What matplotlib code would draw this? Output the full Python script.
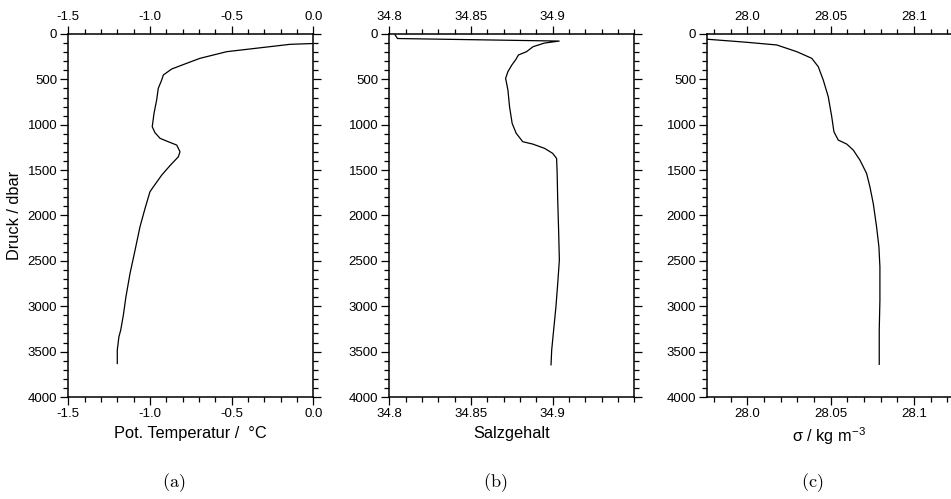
import matplotlib
matplotlib.use("Agg")
import matplotlib.pyplot as plt
from matplotlib.ticker import FixedLocator, MultipleLocator

plt.rcParams['font.family'] = ['Liberation Sans', 'DejaVu Sans']
plt.rcParams['mathtext.fontset'] = 'cm'
plt.rcParams['axes.unicode_minus'] = False

# CTD profile, pressure in dbar
temp_p = [105, 114, 195, 268, 323, 386, 452, 507, 599, 728, 874, 1022, 1088, 1150,
          1187, 1224, 1298, 1353, 1450, 1555, 1684, 1739, 1922, 2125, 2381, 2639,
          2896, 3100, 3263, 3337, 3484, 3631]
temp = [0.0, -0.142, -0.530, -0.693, -0.775, -0.867, -0.918, -0.928, -0.949, -0.959,
        -0.975, -0.986, -0.969, -0.938, -0.888, -0.836, -0.816, -0.826, -0.877, -0.928,
        -0.979, -1.0, -1.030, -1.061, -1.091, -1.122, -1.147, -1.163, -1.179, -1.19,
        -1.2, -1.2]

salt_p = [10, 50, 78, 100, 140, 195, 232, 280, 342, 415, 489, 617, 801, 985, 1095,
          1187, 1213, 1260, 1315, 1371, 1500, 1830, 2197, 2492, 2749, 3007, 3263,
          3484, 3645]
salt = [34.8035, 34.805, 34.904, 34.895, 34.888, 34.884, 34.879, 34.8775, 34.875,
        34.8726, 34.8712, 34.8726, 34.8736, 34.8752, 34.8777, 34.8817, 34.8878,
        34.895, 34.900, 34.9024, 34.9027, 34.9031, 34.9037, 34.9041, 34.9031, 34.902,
        34.9006, 34.8994, 34.899]

sigma_p = [58, 77, 92, 121, 195, 268, 360, 507, 691, 912, 1077, 1169, 1213, 1279,
           1389, 1536, 1684, 1867, 2125, 2345, 2566, 2933, 3263, 3640]
sigma = [27.976, 27.9896, 28.0, 28.0177, 28.0297, 28.0387, 28.0426, 28.0456, 28.0486,
         28.0507, 28.052, 28.0546, 28.0597, 28.0636, 28.0676, 28.0716, 28.0736,
         28.0756, 28.0776, 28.079, 28.0796, 28.0796, 28.0792, 28.0792]

temp_ticks = [-1.5, -1.0, -0.5, 0.0]
temp_labels = ['-1.5', '-1.0', '-0.5', '0.0']
salt_ticks = [34.8, 34.85, 34.9]
salt_labels = ['34.8', '34.85', '34.9']
sigma_ticks = [28.0, 28.05, 28.1]
sigma_labels = ['28.0', '28.05', '28.1']
p_ticks = [0, 500, 1000, 1500, 2000, 2500, 3000, 3500, 4000]


def panel(fig, left, x, p, xlim, ticks, labels, minor, xlabel, caption, ylabel=None):
	ax = fig.add_axes([left, 0.2044, 0.2576, 0.7275])
	ax.plot(x, p, color='black', lw=0.9)
	ax.set_xlim(*xlim)
	ax.set_ylim(4000, 0)
	ax.xaxis.set_major_locator(FixedLocator(ticks))
	ax.set_xticklabels(labels)
	ax.xaxis.set_minor_locator(MultipleLocator(minor))
	ax.yaxis.set_major_locator(FixedLocator(p_ticks))
	ax.yaxis.set_minor_locator(MultipleLocator(100))
	ax.tick_params(which='both', direction='out', top=True, right=True,
	               labeltop=True, labelright=False, labelsize=9.5, width=0.9, pad=2)
	ax.tick_params(which='major', length=6)
	ax.tick_params(which='minor', length=3.5)
	for s in ax.spines.values():
		s.set_linewidth(1.1)
	ax.set_xlabel(xlabel, fontsize=11.8, labelpad=4)
	if ylabel:
		ax.set_ylabel(ylabel, fontsize=11.8, labelpad=4)
	# caption below the panel
	ax.text(0.43, -0.236, caption, transform=ax.transAxes, ha='center', va='center',
	        fontsize=13)
	return ax


def main():
	fig = plt.figure(figsize=(9.51, 4.99), dpi=100)
	panel(fig, 0.0718, temp, temp_p, (-1.5, 0.0), temp_ticks, temp_labels, 0.1,
	      'Pot. Temperatur /  \u00b0C', r'$\mathrm{(a)}$', ylabel='Druck / dbar')
	panel(fig, 0.4094, salt, salt_p, (34.8, 34.95), salt_ticks, salt_labels, 0.01,
	      'Salzgehalt', r'$\mathrm{(b)}$')
	panel(fig, 0.7437, sigma, sigma_p, (27.976, 28.123), sigma_ticks, sigma_labels, 0.01,
	      '\u03c3 / kg m$^{\\mathregular{-3}}$', r'$\mathrm{(c)}$')
	fig.savefig('out.png', dpi=100)


if __name__ == "__main__":
	main()
